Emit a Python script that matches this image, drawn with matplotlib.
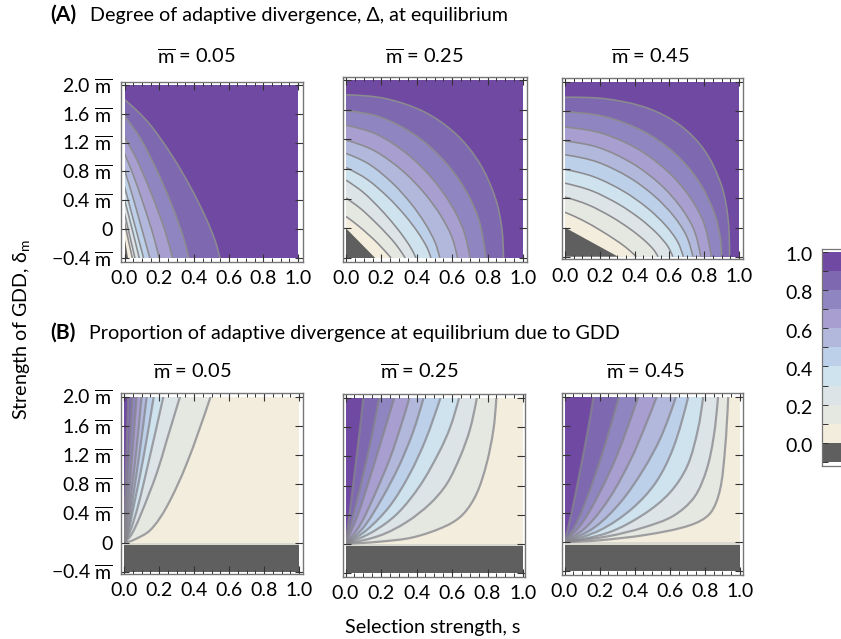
import numpy as np
import matplotlib
matplotlib.use("Agg")
import matplotlib.pyplot as plt
from matplotlib.path import Path
from matplotlib.patches import PathPatch, Rectangle
from matplotlib.ticker import MultipleLocator, FixedLocator
from matplotlib.transforms import ScaledTranslation

FONT = "Lato"
plt.rcParams["font.family"] = FONT
plt.rcParams["mathtext.fontset"] = "custom"
plt.rcParams["mathtext.rm"] = FONT
plt.rcParams["mathtext.it"] = FONT
plt.rcParams["mathtext.bf"] = FONT + ":bold"
plt.rcParams["axes.unicode_minus"] = True

# ---- data ----
band_colors = ["#5f5f5f", "#f3eddd", "#e5e7e1", "#dce4e7", "#cfe3ef", "#bdd0e9",
               "#b2b7dc", "#a89fd0", "#8f85c1", "#7e69b1", "#7049a2"]
band_edges = [-0.1, 0.0, 0.1, 0.2, 0.3, 0.4, 0.5, 0.6, 0.7, 0.8, 0.9, 1.0]
cbar_ticks = [0.0, 0.2, 0.4, 0.6, 0.8, 1.0]
x_ticks = [0.0, 0.2, 0.4, 0.6, 0.8, 1.0]
y_ticks = [-0.4, 0.0, 0.4, 0.8, 1.2, 1.6, 2.0]
y_labels = [r"−0.4 $\overline{\mathrm{m}}$", "0", r"0.4 $\overline{\mathrm{m}}$",
            r"0.8 $\overline{\mathrm{m}}$", r"1.2 $\overline{\mathrm{m}}$",
            r"1.6 $\overline{\mathrm{m}}$", r"2.0 $\overline{\mathrm{m}}$"]
m_values = ["0.05", "0.25", "0.45"]

# contours of panel A, level 0.0 .. 0.9 as (s, delta)
A1_curves = [
    [(0, -0.1), (0.02, -0.4)],
    [(0, 0.10), (0.022, -0.15), (0.045, -0.4)],
    [(0, 0.22), (0.03, -0.09), (0.06, -0.4)],
    [(0, 0.41), (0.042, 0.02), (0.085, -0.4)],
    [(0, 0.59), (0.055, 0.095), (0.11, -0.4)],
    [(0, 0.82), (0.0365, 0.54), (0.073, 0.234), (0.146, -0.4)],
    [(0, 1.05), (0.05, 0.753), (0.1, 0.412), (0.14, 0.118), (0.17, -0.12), (0.2, -0.4)],
    [(0, 1.28), (0.069, 0.974), (0.1385, 0.591), (0.194, 0.248), (0.2355, -0.04), (0.277, -0.4)],
    [(0, 1.57), (0.0925, 1.255), (0.185, 0.823), (0.259, 0.418), (0.3145, 0.065), (0.3515, -0.211), (0.37, -0.4)],
    [(0, 1.80), (0.1375, 1.479), (0.275, 1.017), (0.385, 0.564), (0.4675, 0.165), (0.5225, -0.16), (0.55, -0.4)],
]
A2_curves = [
    [(0, 0.0), (0.165, -0.4)],
    [(0, 0.16), (0.064, 0.045), (0.1275, -0.086), (0.1785, -0.2), (0.255, -0.4)],
    [(0, 0.41), (0.084, 0.263), (0.1675, 0.078), (0.2345, -0.087), (0.285, -0.227), (0.335, -0.4)],
    [(0, 0.65), (0.099, 0.482), (0.1975, 0.252), (0.2765, 0.036), (0.336, -0.152), (0.375, -0.299), (0.395, -0.4)],
    [(0, 0.82), (0.12, 0.659), (0.24, 0.414), (0.336, 0.166), (0.408, -0.061), (0.456, -0.251), (0.48, -0.4)],
    [(0, 1.01), (0.1325, 0.862), (0.265, 0.604), (0.371, 0.323), (0.4505, 0.051), (0.5035, -0.191), (0.53, -0.4)],
    [(0, 1.19), (0.1575, 1.05), (0.315, 0.785), (0.441, 0.479), (0.5355, 0.171), (0.5985, -0.12), (0.63, -0.4)],
    [(0, 1.39), (0.175, 1.265), (0.35, 0.994), (0.49, 0.663), (0.595, 0.312), (0.665, -0.035), (0.70, -0.4)],
    [(0, 1.59), (0.1975, 1.496), (0.395, 1.25), (0.553, 0.913), (0.6715, 0.529), (0.7505, 0.115), (0.79, -0.4)],
    [(0, 1.80), (0.2225, 1.75), (0.445, 1.567), (0.623, 1.268), (0.7565, 0.872), (0.8455, 0.396), (0.881, -0.013), (0.89, -0.4)],
]
A3_curves = [
    [(0, 0.0), (0.305, -0.4)],
    [(0, 0.21), (0.1025, 0.099), (0.205, -0.04), (0.287, -0.165), (0.3485, -0.269), (0.41, -0.4)],
    [(0, 0.42), (0.134, 0.312), (0.2675, 0.147), (0.3745, -0.02), (0.455, -0.172), (0.508, -0.3), (0.535, -0.4)],
    [(0, 0.61), (0.155, 0.504), (0.31, 0.319), (0.434, 0.118), (0.527, -0.077), (0.589, -0.251), (0.62, -0.4)],
    [(0, 0.80), (0.17, 0.694), (0.34, 0.494), (0.476, 0.264), (0.578, 0.031), (0.646, -0.189), (0.68, -0.4)],
    [(0, 1.0), (0.184, 0.902), (0.3675, 0.691), (0.5145, 0.432), (0.625, 0.157), (0.698, -0.114), (0.735, -0.4)],
    [(0, 1.19), (0.195, 1.098), (0.39, 0.878), (0.546, 0.597), (0.663, 0.287), (0.741, -0.031), (0.78, -0.4)],
    [(0, 1.38), (0.21, 1.296), (0.42, 1.076), (0.588, 0.775), (0.714, 0.431), (0.798, 0.061), (0.84, -0.4)],
    [(0, 1.59), (0.225, 1.526), (0.45, 1.323), (0.63, 1.021), (0.765, 0.649), (0.855, 0.221), (0.891, -0.119), (0.90, -0.4)],
    [(0, 1.79), (0.2365, 1.768), (0.473, 1.643), (0.662, 1.405), (0.804, 1.054), (0.899, 0.583), (0.9365, 0.137), (0.946, -0.4)],
]
# contours of panel B, level 0.1 .. 0.9 as (s, delta)
B1_curves = [
    [(0, 0), (0.05, 0.03), (0.15, 0.17), (0.244, 0.49), (0.358, 1.08), (0.495, 2)],
    [(0, 0), (0.04, 0.1), (0.09, 0.35), (0.187, 0.95), (0.244, 1.4), (0.32, 2)],
    [(0, 0), (0.03, 0.12), (0.08, 0.5), (0.14, 1.1), (0.225, 2)],
    [(0, 0), (0.02, 0.1), (0.06, 0.55), (0.11, 1.15), (0.17, 2)],
    [(0, 0), (0.02, 0.15), (0.05, 0.6), (0.09, 1.25), (0.13, 2)],
    [(0, 0), (0.015, 0.18), (0.04, 0.65), (0.07, 1.25), (0.10, 2)],
    [(0, 0), (0.01, 0.18), (0.03, 0.7), (0.05, 1.3), (0.072, 2)],
    [(0, 0), (0.008, 0.25), (0.02, 0.8), (0.035, 1.4), (0.048, 2)],
    [(0, 0), (0.004, 0.3), (0.01, 0.9), (0.018, 1.5), (0.025, 2)],
]
B2_curves = [
    [(0, 0), (0.194, 0.03), (0.382, 0.09), (0.57, 0.25), (0.664, 0.41), (0.739, 0.69), (0.795, 1.1), (0.833, 1.56), (0.85, 2)],
    [(0, 0), (0.194, 0.114), (0.345, 0.30), (0.476, 0.55), (0.57, 0.82), (0.645, 1.19), (0.70, 1.56), (0.74, 2)],
    [(0, 0), (0.15, 0.16), (0.29, 0.41), (0.42, 0.8), (0.53, 1.27), (0.59, 1.6), (0.64, 2)],
    [(0, 0), (0.12, 0.19), (0.25, 0.52), (0.36, 0.95), (0.45, 1.42), (0.535, 2)],
    [(0, 0), (0.1, 0.22), (0.2, 0.6), (0.3, 1.06), (0.38, 1.53), (0.44, 2)],
    [(0, 0), (0.08, 0.25), (0.16, 0.65), (0.25, 1.17), (0.31, 1.6), (0.36, 2)],
    [(0, 0), (0.07, 0.4), (0.13, 0.85), (0.2, 1.4), (0.275, 2)],
    [(0, 0), (0.05, 0.45), (0.1, 0.95), (0.15, 1.5), (0.19, 2)],
    [(0, 0), (0.025, 0.45), (0.05, 0.95), (0.08, 1.55), (0.10, 2)],
]
B3_curves = [
    [(0, 0), (0.183, 0.02), (0.468, 0.10), (0.714, 0.23), (0.828, 0.39), (0.885, 0.71), (0.914, 1.26), (0.933, 2)],
    [(0, 0), (0.25, 0.08), (0.45, 0.2), (0.62, 0.36), (0.74, 0.62), (0.81, 1.0), (0.85, 1.45), (0.875, 2)],
    [(0, 0), (0.25, 0.13), (0.45, 0.38), (0.6, 0.68), (0.7, 1.05), (0.76, 1.55), (0.79, 2)],
    [(0, 0), (0.2, 0.16), (0.38, 0.45), (0.52, 0.82), (0.62, 1.3), (0.705, 2)],
    [(0, 0), (0.17, 0.2), (0.32, 0.55), (0.45, 1.0), (0.55, 1.45), (0.635, 2)],
    [(0, 0), (0.13, 0.22), (0.26, 0.62), (0.38, 1.15), (0.46, 1.6), (0.525, 2)],
    [(0, 0), (0.1, 0.26), (0.2, 0.68), (0.3, 1.2), (0.42, 2)],
    [(0, 0), (0.07, 0.27), (0.15, 0.75), (0.23, 1.33), (0.31, 2)],
    [(0, 0), (0.04, 0.4), (0.09, 1.0), (0.13, 1.5), (0.165, 2)],
]
dark_top_B = -0.035

# ---- layout in pixels of the 841x639 figure ----
W, H = 841, 639
# frame l, r, top, bottom; s=0 px, s=1 px, delta=2 px, delta=-0.4 px
frames = {
    "A1": (121, 302.5, 82, 262, 124.5, 298, 85, 258),
    "A2": (342.7, 527.3, 76.7, 261.7, 346, 523, 80, 258),
    "A3": (562, 743, 78, 259.3, 565, 739, 82, 256.7),
    "B1": (121, 302.7, 393, 574, 124, 299, 396.7, 571.7),
    "B2": (342.7, 525, 394, 576.7, 345.5, 523, 398, 573),
    "B3": (562, 743, 393, 575, 564.5, 740, 397, 571),
}
title_pos = {"A1": (196, 57), "A2": (424, 57), "A3": (650, 57),
             "B1": (192, 372), "B2": (419, 372), "B3": (645, 372)}
FS = 14.0
HEAD = 14.2
FRAME = "#767676"
LINE = "#8b8b8f"


def px(x, y):
    return x / W, 1 - y / H


def smooth(points):
    """Bezier path through the read points, tangents weighted by on-screen distance."""
    p = np.array(points, dtype=float)
    n = len(p)
    if n == 2:
        return [p[0], p[1]], [Path.MOVETO, Path.LINETO]
    d = np.linalg.norm(np.diff(p, axis=0) * np.array([175.0, 74.0]), axis=1)
    m = np.zeros_like(p)
    for i in range(1, n - 1):
        m[i] = (p[i + 1] - p[i - 1]) / (d[i - 1] + d[i])
    m[0] = 1.5 * (p[1] - p[0]) / d[0] - 0.5 * m[1]
    m[-1] = 1.5 * (p[-1] - p[-2]) / d[-1] - 0.5 * m[-2]
    verts, codes = [p[0]], [Path.MOVETO]
    for i in range(n - 1):
        verts += [p[i] + m[i] * d[i] / 3, p[i + 1] - m[i + 1] * d[i] / 3, p[i + 1]]
        codes += [Path.CURVE4] * 3
    return verts, codes


fig = plt.figure(figsize=(W / 100, H / 100), dpi=100, facecolor="white")


def make_axes(key):
    l, r, t, b, x0, x1, y2, ym = frames[key]
    ax = fig.add_axes([l / W, 1 - b / H, (r - l) / W, (b - t) / H])
    sx = 1 / (x1 - x0)
    ax.set_xlim((l - x0) * sx, (r - x0) * sx)
    sy = 2.4 / (ym - y2)
    ax.set_ylim(-0.4 + (ym - b) * sy, -0.4 + (ym - t) * sy)
    for s in ax.spines.values():
        s.set_color(FRAME)
        s.set_linewidth(1.0)
    ax.xaxis.set_major_locator(FixedLocator(x_ticks))
    ax.xaxis.set_minor_locator(MultipleLocator(0.05))
    ax.yaxis.set_major_locator(FixedLocator(y_ticks))
    ax.tick_params(axis="x", which="major", direction="in", top=True, bottom=True,
                   length=6, width=0.8, color="#333333", pad=6, labelsize=FS)
    ax.tick_params(axis="x", which="minor", direction="in", top=True, bottom=True,
                   length=3, width=0.7, color="#333333")
    ax.tick_params(axis="y", which="major", direction="in", left=True, right=True,
                   length=6, width=0.8, color="#333333", pad=6, labelsize=FS)
    ax.set_xticklabels([f"{v:.1f}" for v in x_ticks])
    if key in ("A1", "B1"):
        ax.set_yticklabels(y_labels)
    else:
        ax.set_yticklabels([])
    clip = Rectangle((0, -0.4), 1, 2.4, transform=ax.transData)
    tx, ty = title_pos[key]
    m = m_values[int(key[1]) - 1]
    fig.text(*px(tx, ty), r"$\overline{\mathrm{m}}$ = " + m, ha="center", va="center", fontsize=FS + 0.4)
    return ax, clip


def add_band(ax, clip, points, corner, color, line=None, lw=1.2, alpha=1.0):
    verts, codes = smooth(points)
    fv = list(verts) + [np.array(corner, float), verts[0]]
    fc = list(codes) + [Path.LINETO, Path.CLOSEPOLY]
    patch = PathPatch(Path(fv, fc), facecolor=color, edgecolor="none", zorder=1)
    ax.add_patch(patch)
    patch.set_clip_path(clip)
    if line:
        stroke = PathPatch(Path(verts, codes), facecolor="none", edgecolor=line,
                           linewidth=lw, alpha=alpha, zorder=1.5)
        ax.add_patch(stroke)
        stroke.set_clip_path(clip)


# panel row A
for key, curves in (("A1", A1_curves), ("A2", A2_curves), ("A3", A3_curves)):
    ax, clip = make_axes(key)
    ax.add_patch(Rectangle((0, -0.4), 1, 2.4, facecolor=band_colors[-1], edgecolor="none", zorder=0.5))
    # from the highest contour down, each band paints the region toward the origin
    for i in range(len(curves) - 1, -1, -1):
        add_band(ax, clip, curves[i], (0, -0.4), band_colors[i],
                 line=LINE if i > 0 else None, lw=1.15)

# panel row B
for key, curves in (("B1", B1_curves), ("B2", B2_curves), ("B3", B3_curves)):
    ax, clip = make_axes(key)
    ax.add_patch(Rectangle((0, 0), 1, 2, facecolor=band_colors[1], edgecolor="none", zorder=0.5))
    ax.add_patch(Rectangle((0, -0.4), 1, 0.4 + dark_top_B, facecolor=band_colors[0], edgecolor="none", zorder=0.6))
    ax.add_patch(Rectangle((0, dark_top_B), 1, -dark_top_B, facecolor="#d9d9d2", edgecolor="none", zorder=0.6))
    for i, c in enumerate(curves):
        add_band(ax, clip, c, (0, 2), band_colors[i + 2], line="#85858b", lw=1.6, alpha=0.75)

# colour bar, cut by the right edge of the figure like the reference
cax = fig.add_axes([822 / W, 1 - 466 / H, (841 - 822) / W, (466 - 249) / H])
y0c, y1c = 443.0, 251.7
sc = 1.0 / (y0c - y1c)
cax.set_ylim((y0c - 466) * sc, (y0c - 249) * sc)
cax.set_xlim(0, 1)
for i, col in enumerate(band_colors):
    cax.bar(0.5, band_edges[i + 1] - band_edges[i], width=1, bottom=band_edges[i], color=col)
cax.yaxis.set_major_locator(FixedLocator(cbar_ticks))
cax.yaxis.set_minor_locator(FixedLocator(band_edges))
cax.set_yticklabels([f"{v:.1f}" for v in cbar_ticks])
cax.tick_params(axis="y", which="major", direction="in", length=4, width=0.7, color="#333333", pad=7, labelsize=FS)
cax.tick_params(axis="y", which="minor", direction="in", length=4, width=0.7, color="#333333")
cax.set_xticks([])
shift = ScaledTranslation(0, -2.5 / 72 * 72 / 100, fig.dpi_scale_trans)
for lab in cax.get_yticklabels():
    lab.set_transform(lab.get_transform() + shift)
for name, s in cax.spines.items():
    s.set_color(FRAME)
    s.set_linewidth(0.9)
cax.spines["right"].set_visible(False)

# headings and axis titles
fig.text(*px(50, 15), "(A)", fontsize=HEAD + 1, fontweight="bold", ha="left", va="center")
fig.text(*px(89.5, 15), "Degree of adaptive divergence, Δ, at equilibrium", fontsize=HEAD, ha="left", va="center")
fig.text(*px(50, 333), "(B)", fontsize=HEAD + 1, fontweight="bold", ha="left", va="center")
fig.text(*px(89, 333), "Proportion of adaptive divergence at equilibrium due to GDD", fontsize=HEAD, ha="left", va="center")
fig.text(*px(22, 330), r"Strength of GDD, $\mathrm{δ_m}$", rotation=90, fontsize=HEAD, ha="center", va="center")
fig.text(*px(433, 627), "Selection strength, s", fontsize=HEAD, ha="center", va="center")

fig.savefig("out.png", dpi=100, facecolor="white")
